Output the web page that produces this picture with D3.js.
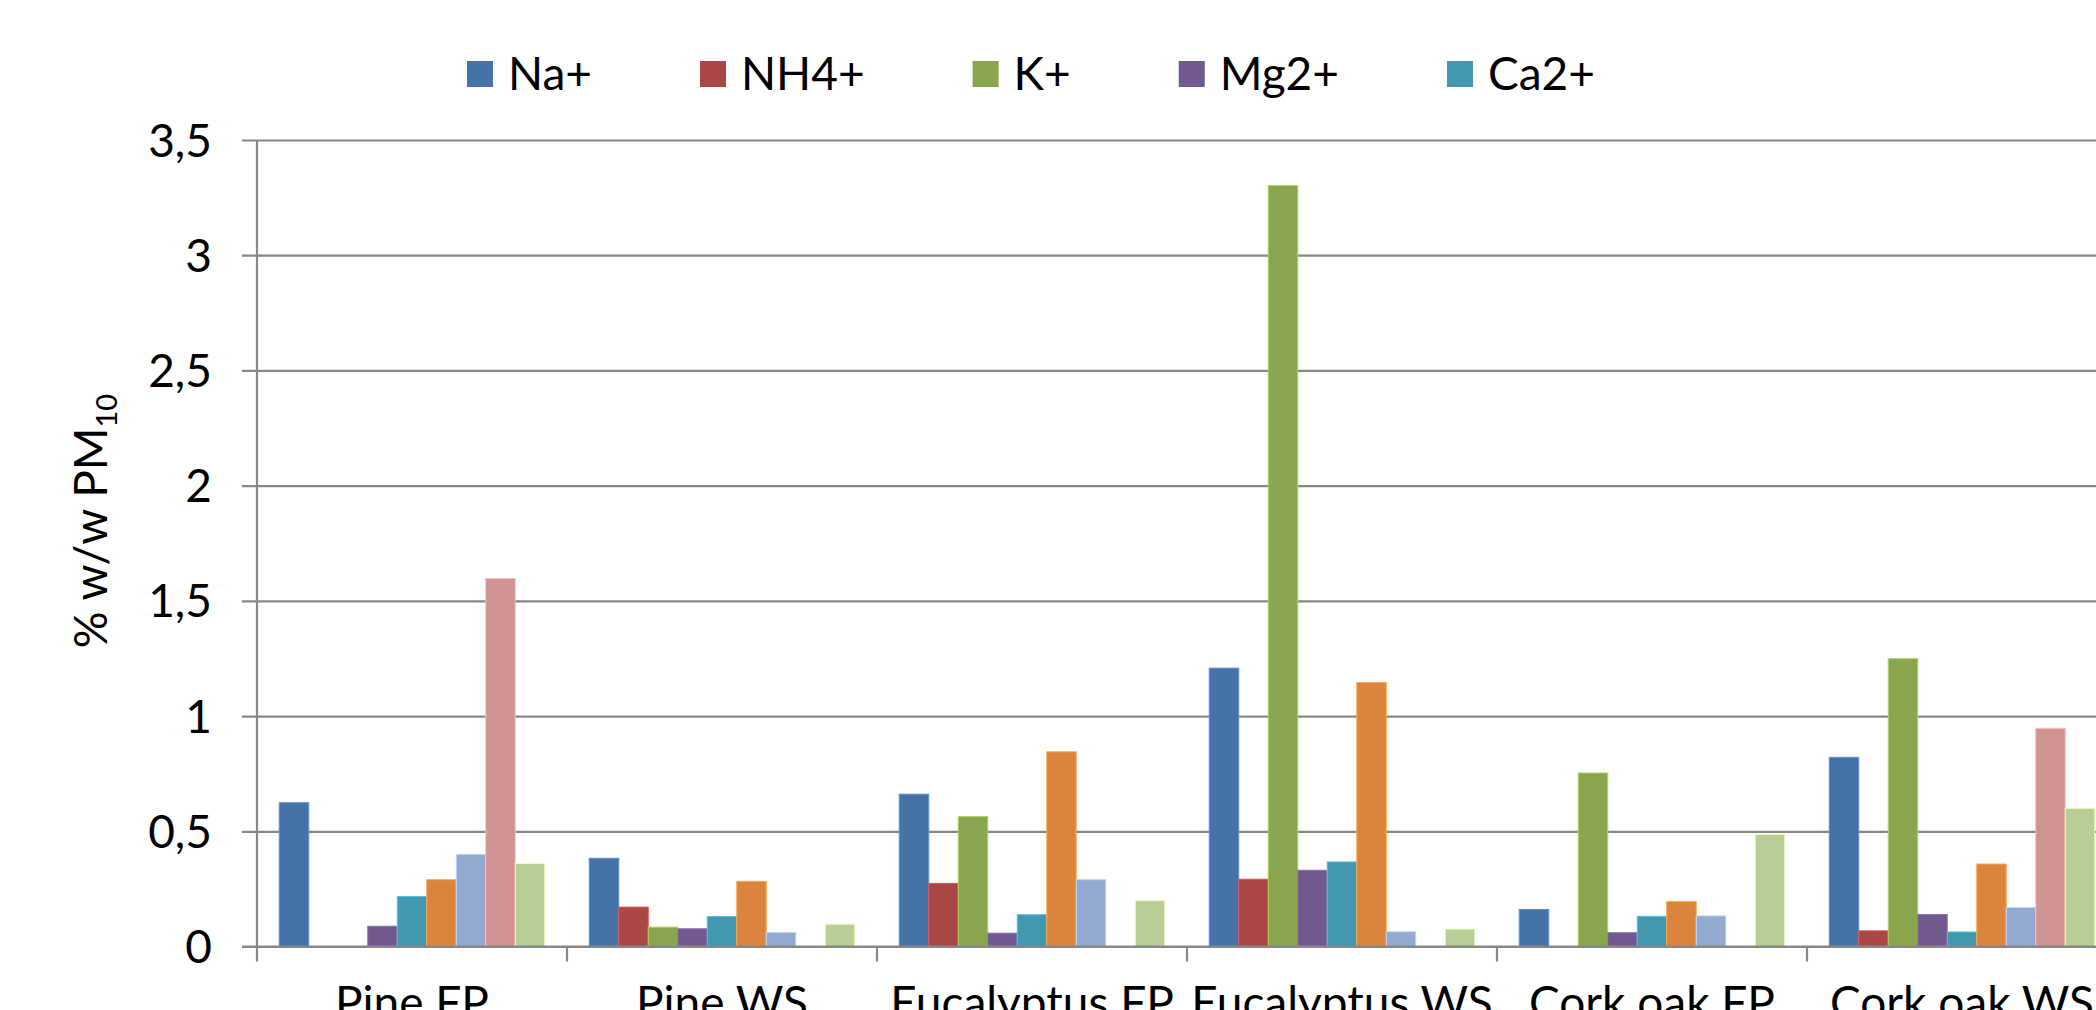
<!DOCTYPE html>
<html>
<head>
<meta charset="utf-8">
<script src="https://cdn.jsdelivr.net/npm/d3@7"></script>
<style>
  html, body { margin: 0; padding: 0; background: #fff; overflow: hidden; }
  svg { display: block; font-family: Lato, "Open Sans", sans-serif; }
</style>
</head>
<body>
<svg id="chart" width="2096" height="1010"></svg>
<script>
// ---- data ----
const categories = ["Pine FP", "Pine WS", "Eucalyptus FP", "Eucalyptus WS", "Cork oak FP", "Cork oak WS"];
const seriesNames = ["Na+", "NH4+", "K+", "Mg2+", "Ca2+", "S6", "S7", "S8", "S9"];
const legendNames = ["Na+", "NH4+", "K+", "Mg2+", "Ca2+"];
const seriesColors = ["#4572A7", "#AA4643", "#89A54E", "#71588F", "#4198AF", "#DB843D", "#93A9CF", "#D19392", "#B9CD96"];
const naValues   = [0.624, 0.383, 0.661, 1.208, 0.161, 0.821];
const nh4Values  = [0,     0.171, 0.274, 0.292, 0,     0.068];
const kValues    = [0,     0.084, 0.564, 3.302, 0.753, 1.249];
const mgValues   = [0.088, 0.077, 0.058, 0.331, 0.060, 0.139];
const caValues   = [0.217, 0.130, 0.138, 0.367, 0.131, 0.063];
const s6Values   = [0.290, 0.283, 0.845, 1.146, 0.195, 0.358];
const s7Values   = [0.400, 0.061, 0.290, 0.064, 0.133, 0.169];
const s8Values   = [1.597, 0,     0,     0,     0,     0.947];
const s9Values   = [0.360, 0.097, 0.199, 0.076, 0.487, 0.600];
const yTicks = [0, 0.5, 1, 1.5, 2, 2.5, 3, 3.5];
const yTickLabels = ["0", "0,5", "1", "1,5", "2", "2,5", "3", "3,5"];
const yTitle = "% w/w PM";
const yTitleSub = "10";

const allSeries = [naValues, nh4Values, kValues, mgValues, caValues, s6Values, s7Values, s8Values, s9Values];

// ---- layout ----
const svg = d3.select("#chart");
const plotLeft = 257, groupW = 310, plotTop = 140, zeroY = 946.5;
const x0 = d3.scaleBand().domain(categories).range([plotLeft, plotLeft + groupW * categories.length]).padding(0);
const x1 = d3.scaleBand().domain(seriesNames).range([22.25, groupW - 22.25]).padding(0);
const y = d3.scaleLinear().domain([0, 3.5]).range([zeroY, plotTop]);
const color = d3.scaleOrdinal().domain(seriesNames).range(seriesColors);

// gridlines + y ticks
const yAxis = d3.axisLeft(y).tickValues(yTicks)
  .tickSize(-(2096 - plotLeft)).tickSizeOuter(0)
  .tickFormat((d, i) => yTickLabels[i]);
const gy = svg.append("g").attr("transform", `translate(${plotLeft},0)`).call(yAxis);
gy.select(".domain").remove();
gy.selectAll(".tick line").attr("stroke", "#888").attr("stroke-width", 2.2).attr("x1", -15);
gy.selectAll(".tick text").attr("x", -45).attr("dy", "0.35em")
  .attr("font-size", 46).attr("fill", "#000").attr("font-family", "Lato, sans-serif");

// vertical axis line
svg.append("line").attr("x1", plotLeft).attr("x2", plotLeft).attr("y1", plotTop).attr("y2", zeroY + 15)
  .attr("stroke", "#888").attr("stroke-width", 2.2);

// category ticks
svg.append("g").selectAll("line").data(categories.slice(1)).join("line")
  .attr("x1", d => x0(d)).attr("x2", d => x0(d))
  .attr("y1", zeroY).attr("y2", zeroY + 15)
  .attr("stroke", "#888").attr("stroke-width", 2.2);

// bars
const groups = svg.append("g").selectAll("g").data(categories).join("g")
  .attr("transform", d => `translate(${x0(d)},0)`);
groups.selectAll("rect")
  .data((c, ci) => seriesNames.map((s, si) => ({ s, v: allSeries[si][ci] })).filter(d => d.v > 0))
  .join("rect")
  .attr("x", d => x1(d.s))
  .attr("width", x1.bandwidth())
  .attr("y", d => y(d.v))
  .attr("height", d => y(0) - y(d.v))
  .attr("fill", d => color(d.s))
  .attr("stroke", d => d3.color(color(d.s)).brighter(0.7))
  .attr("stroke-width", 1);

// zero baseline on top
svg.append("line").attr("x1", plotLeft - 15).attr("x2", 2096).attr("y1", y(0)).attr("y2", y(0))
  .attr("stroke", "#888").attr("stroke-width", 2.2);

// x labels (cut by the bottom edge, as in the reference)
svg.append("g").selectAll("text").data(categories).join("text")
  .attr("x", d => x0(d) + groupW / 2)
  .attr("y", 1019)
  .attr("text-anchor", "middle")
  .attr("font-size", 46).attr("fill", "#000")
  .text(d => d);

// y title
const t = svg.append("text")
  .attr("transform", "translate(107,521) rotate(-90)")
  .attr("text-anchor", "middle")
  .attr("font-size", 46).attr("fill", "#000");
t.append("tspan").text(yTitle);
t.append("tspan").attr("font-size", 29).attr("dy", 10).text(yTitleSub);

// legend
let lx = 467;
const lg = svg.append("g");
legendNames.forEach((name, i) => {
  lg.append("rect").attr("x", lx).attr("y", 61).attr("width", 26).attr("height", 26)
    .attr("fill", seriesColors[i]);
  const tx = lg.append("text").attr("x", lx + 41).attr("y", 90)
    .attr("font-size", 46).attr("fill", "#000").text(name);
  const w = tx.node().getComputedTextLength();
  lx = lx + 41 + w + 108;
});
</script>
</body>
</html>
